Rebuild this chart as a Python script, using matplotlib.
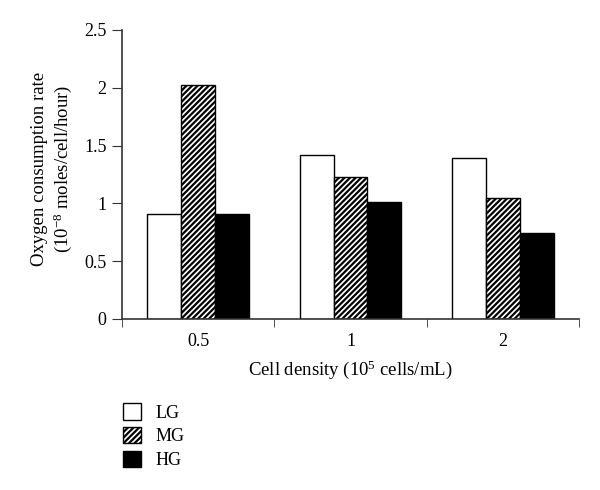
import matplotlib
matplotlib.use("Agg")
import matplotlib.pyplot as plt
import numpy as np
from matplotlib.patches import Patch

plt.rcParams['font.family'] = ['Liberation Serif', 'DejaVu Serif']
plt.rcParams['mathtext.fontset'] = 'custom'
plt.rcParams['mathtext.rm'] = 'Liberation Serif'
plt.rcParams['mathtext.it'] = 'Liberation Serif:italic'
plt.rcParams['hatch.linewidth'] = 1.6

categories = ['0.5', '1', '2']
series_names = ['LG', 'MG', 'HG']
lg = [0.91, 1.42, 1.39]
mg = [2.02, 1.23, 1.05]
hg = [0.91, 1.01, 0.74]
yticks = [0, 0.5, 1, 1.5, 2, 2.5]
ytick_labels = ['0', '0.5', '1', '1.5', '2', '2.5']

fig = plt.figure(figsize=(6, 4.9), dpi=100)
ax = fig.add_axes([0.2033, 0.349, 0.7617, 0.5898])

x = np.arange(len(categories))
w = 0.223
ax.bar(x - w, lg, w, color='white', edgecolor='black', linewidth=1.0, label='LG')
ax.bar(x, mg, w, color='white', edgecolor='black', hatch='//////', linewidth=1.0, label='MG')
ax.bar(x + w, hg, w, color='black', edgecolor='black', linewidth=1.0, label='HG')

ax.set_xlim(-0.5, 2.5)
ax.set_ylim(0, 2.5)
ax.set_yticks(yticks)
ax.set_yticklabels(ytick_labels, fontsize=13)
ax.set_xticks(x)
ax.set_xticklabels(categories, fontsize=13)
ax.tick_params(axis='x', length=0, pad=10)
ax.set_xticks([-0.5, 0.5, 1.5, 2.5], minor=True)
ax.tick_params(axis='x', which='minor', length=6, direction='out', color='#333333')
ax.tick_params(axis='y', length=7, direction='out', color='#333333', pad=4)
for s in ['top', 'right']:
    ax.spines[s].set_visible(False)
for s in ['left', 'bottom']:
    ax.spines[s].set_color('#333333')
    ax.spines[s].set_linewidth(1.2)

ax.set_xlabel('Cell density (10$^{5}$ cells/mL)', fontsize=13.5, labelpad=6)
ax.set_ylabel('Oxygen consumption rate\n(10$^{-8}$ moles/cell/hour)', fontsize=13.5)
ax.yaxis.set_label_coords(-0.106, 0.52)

handles = [Patch(facecolor='white', edgecolor='black', label='LG'),
           Patch(facecolor='white', edgecolor='black', hatch='//////', label='MG'),
           Patch(facecolor='black', edgecolor='black', label='HG')]
fig.legend(handles=handles, labels=series_names, loc='upper left',
           bbox_to_anchor=(0.178, 0.21), frameon=False, fontsize=13,
           handlelength=1.0, handleheight=1.0, handletextpad=0.8, labelspacing=0.3)

fig.savefig('out.png', dpi=100)
